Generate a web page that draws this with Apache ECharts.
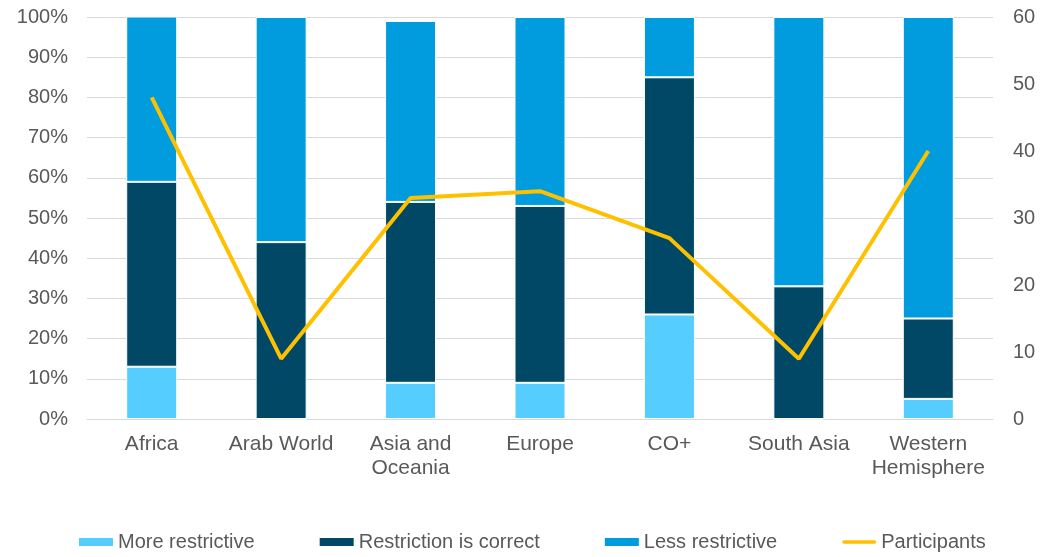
<!DOCTYPE html>
<html>
<head>
<meta charset="utf-8">
<script src="https://cdn.jsdelivr.net/npm/echarts@6/dist/echarts.min.js"></script>
<style>
  html, body { margin: 0; padding: 0; background: #fff; }
  #chart { width: 1055px; height: 557px; }
</style>
</head>
<body>
<div id="chart"></div>
<script>
// Regions and survey responses (share of respondents, %) plus participant counts
const regions = ['Africa', 'Arab World', 'Asia and\nOceania', 'Europe', 'CO+', 'South Asia', 'Western\nHemisphere'];
const moreRestrictive = [13, 0, 9, 9, 26, 0, 5];
const restrictionCorrect = [46, 44, 45, 44, 59, 33, 20];
const lessRestrictive = [41.6, 56, 45, 47, 15, 67, 75];
const participants = [48, 9, 33, 34, 27, 9, 40];

const textColor = '#595959';
const fontFamily = '"Liberation Sans", Arial, sans-serif';
const gridColor = '#d9d9d9';

const chart = echarts.init(document.getElementById('chart'), null, { renderer: 'canvas' });

const barStyle = (color) => ({ color: color, borderColor: '#ffffff', borderWidth: 1 });

chart.setOption({
  animation: false,
  textStyle: { fontFamily: fontFamily, color: textColor },
  grid: { left: 87, right: 62, top: 17, bottom: 138, containLabel: false },
  legend: {
    left: 74,
    top: 527,
    itemWidth: 34,
    itemHeight: 8,
    itemGap: 65,
    itemTextGap: 5,
    symbolKeepAspect: true,
    itemStyle: { borderWidth: 0 },
    textStyle: { fontSize: 20, color: textColor, fontFamily: fontFamily },
    data: [
      { name: 'More restrictive', icon: 'rect' },
      { name: 'Restriction is correct', icon: 'rect' },
      { name: 'Less restrictive', icon: 'rect' },
      { name: 'Participants', icon: 'path://M2,0 L38,0 A2,2 0 0 1 38,4 L2,4 A2,2 0 0 1 2,0 Z' }
    ]
  },
  xAxis: {
    type: 'category',
    data: regions,
    axisLine: { lineStyle: { color: gridColor, width: 1 } },
    axisTick: { show: false },
    axisLabel: {
      fontSize: 21,
      color: textColor,
      margin: 13,
      lineHeight: 24,
      interval: 0
    }
  },
  yAxis: [
    {
      type: 'value',
      min: 0,
      max: 100,
      interval: 10,
      axisLine: { show: false },
      axisTick: { show: false },
      splitLine: { lineStyle: { color: gridColor, width: 1 } },
      axisLabel: { fontSize: 20, color: textColor, margin: 19, formatter: '{value}%' }
    },
    {
      type: 'value',
      min: 0,
      max: 60,
      interval: 10,
      axisLine: { show: false },
      axisTick: { show: false },
      splitLine: { show: false },
      axisLabel: { fontSize: 20, color: textColor, margin: 20 }
    }
  ],
  series: [
    {
      name: 'More restrictive',
      type: 'bar',
      stack: 'share',
      barWidth: 51,
      itemStyle: barStyle('#55cdff'),
      data: moreRestrictive
    },
    {
      name: 'Restriction is correct',
      type: 'bar',
      stack: 'share',
      barWidth: 51,
      itemStyle: barStyle('#004865'),
      data: restrictionCorrect
    },
    {
      name: 'Less restrictive',
      type: 'bar',
      stack: 'share',
      barWidth: 51,
      itemStyle: barStyle('#009cde'),
      data: lessRestrictive
    },
    {
      name: 'Participants',
      type: 'line',
      yAxisIndex: 1,
      symbol: 'none',
      lineStyle: { color: '#ffc000', width: 4 },
      itemStyle: { color: '#ffc000' },
      z: 5,
      data: participants
    }
  ]
});
</script>
</body>
</html>
